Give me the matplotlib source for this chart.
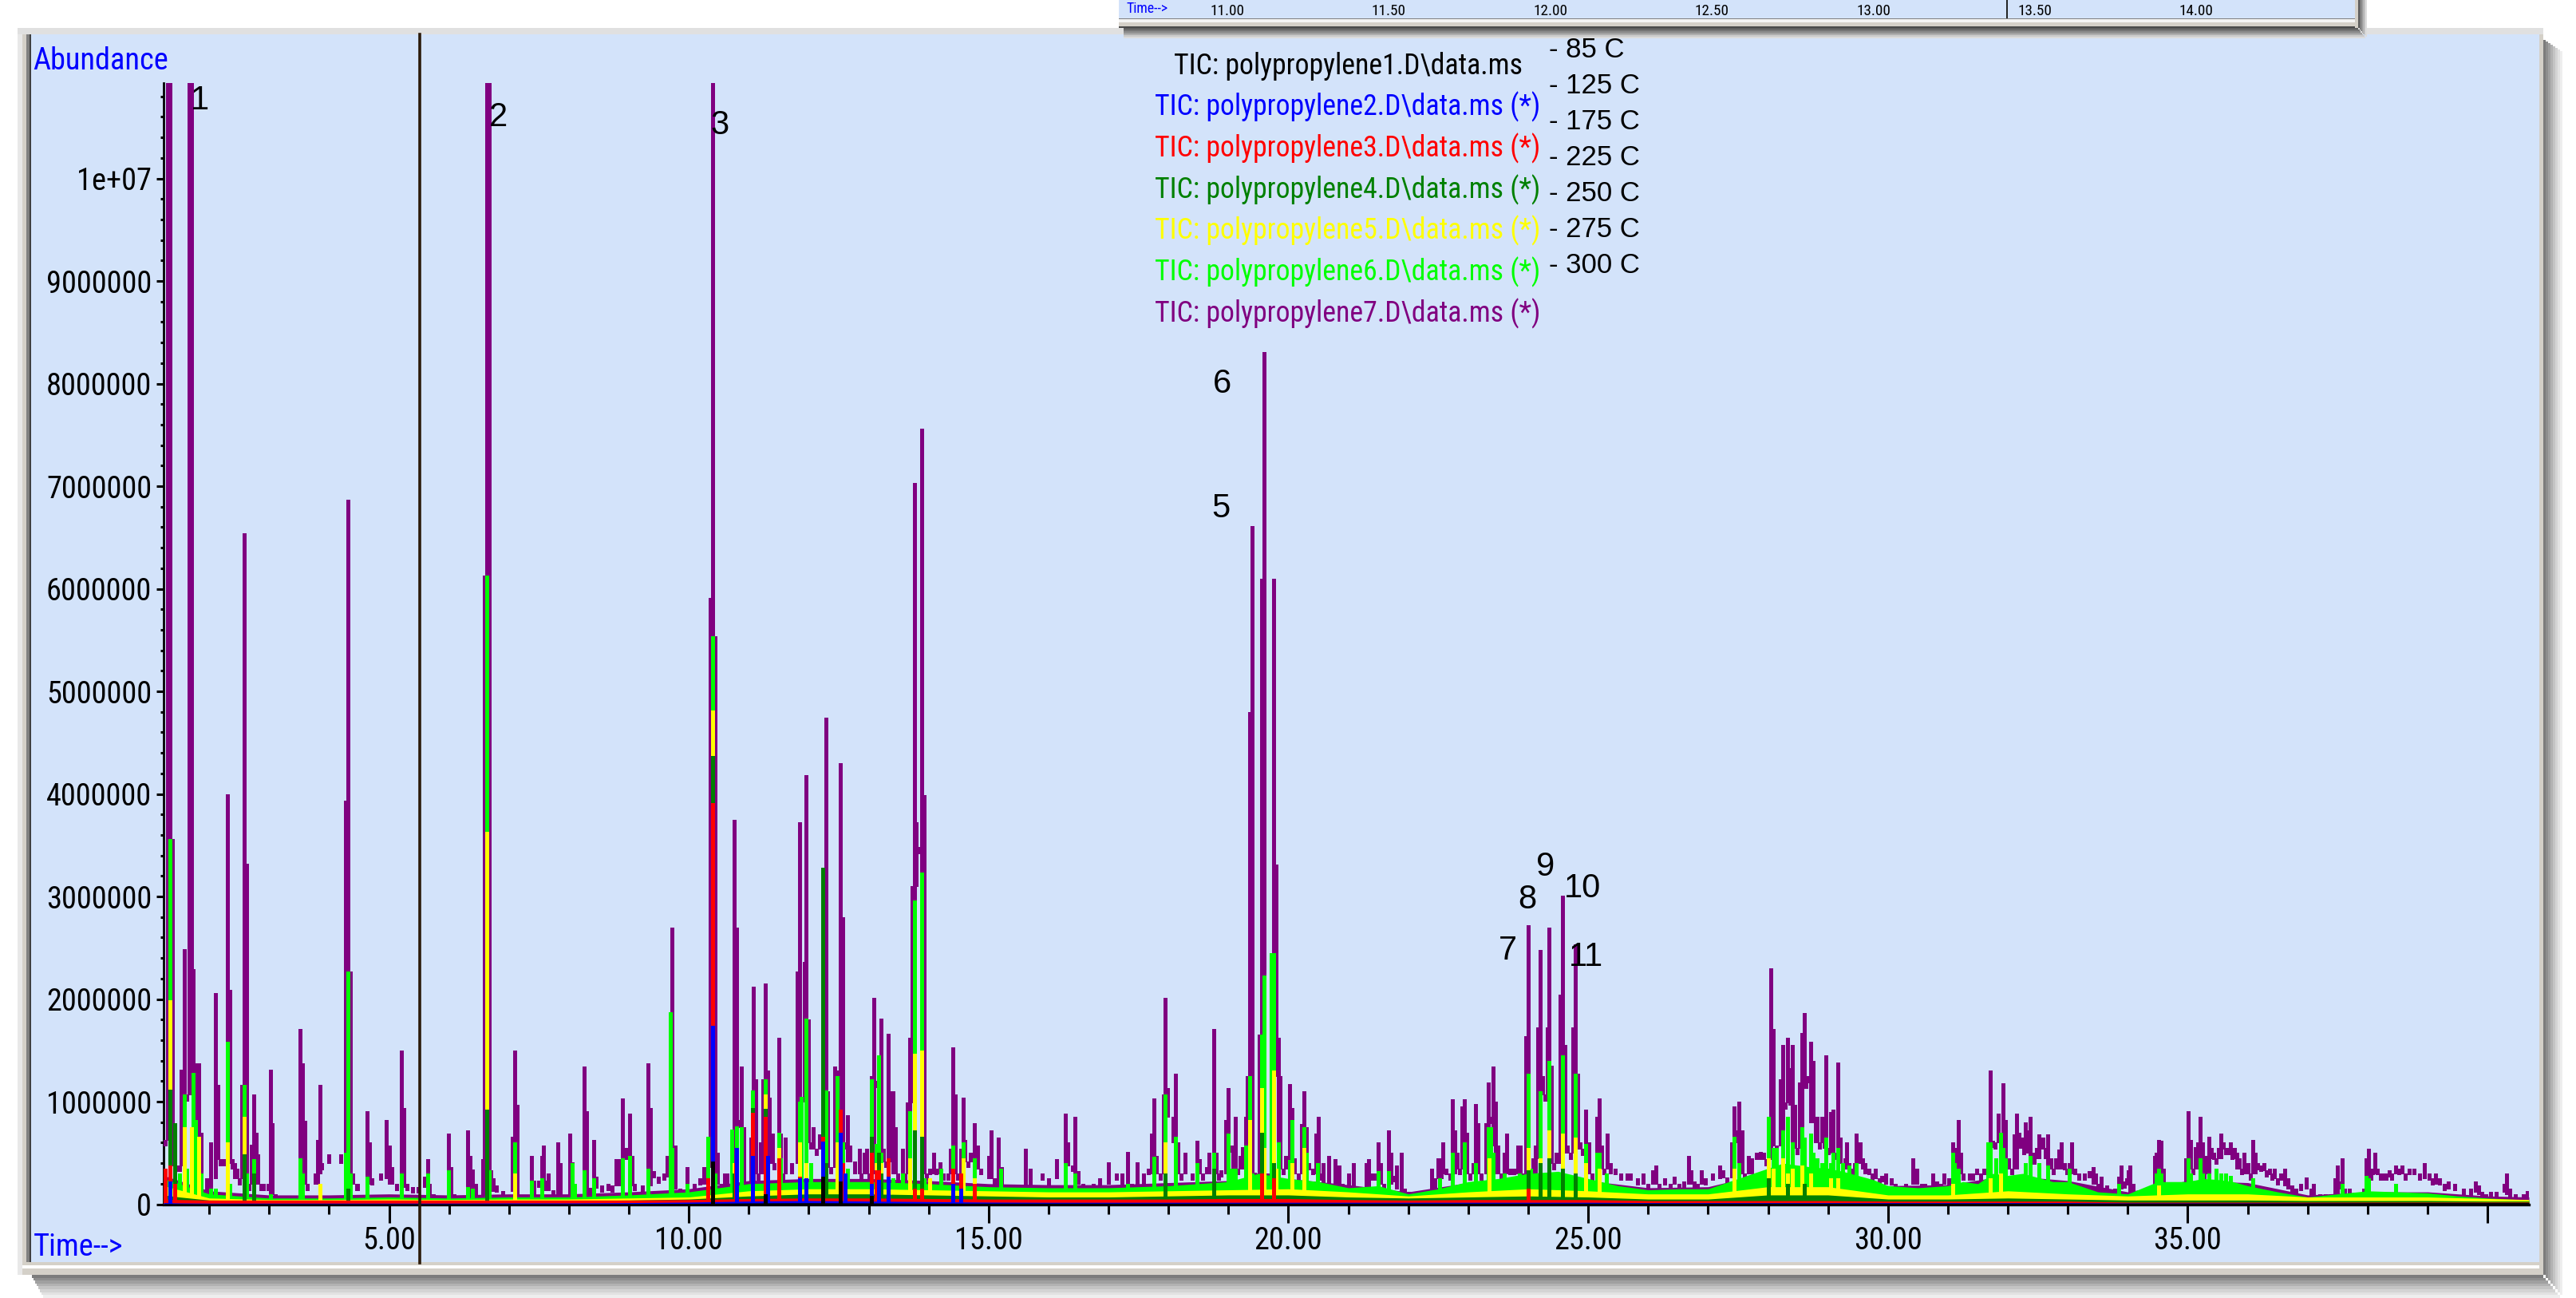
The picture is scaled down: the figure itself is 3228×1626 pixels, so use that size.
import os
import numpy as np
import matplotlib
matplotlib.use('Agg')
import matplotlib.pyplot as plt
from matplotlib.patches import Rectangle
from matplotlib.font_manager import FontProperties, fontManager
from matplotlib.ticker import MultipleLocator

# ---------------------------------------------------------------- data
# retention time (min) / abundance (millions) of each visible stick
PURPLE_T = [
    1.27, 1.30, 1.34, 1.38, 1.42, 1.46, 1.50, 1.53, 1.58, 1.62,
    1.66, 1.70, 1.735, 1.775, 1.82, 1.86, 1.92, 1.96, 2.02, 2.10,
    2.14, 2.18, 2.22, 2.26, 2.30, 2.34, 2.38, 2.42, 2.46, 2.50,
    2.54, 2.58, 2.62, 2.66, 2.71, 2.74, 2.78, 2.81, 2.86, 2.91,
    2.98, 3.02, 3.05, 3.10, 3.52, 3.55, 3.59, 3.64, 3.77, 3.81,
    3.85, 3.88, 3.99, 4.20, 4.28, 4.31, 4.35, 4.39, 4.46,
    4.48, 4.64, 4.68, 4.72, 4.86, 4.96, 5.00, 5.04, 5.12, 5.20,
    5.24, 5.30, 5.39, 5.48, 5.59, 5.64, 5.67, 5.74, 5.88, 5.99,
    6.03, 6.08, 6.21, 6.31, 6.35, 6.39, 6.44, 6.49, 6.56, 6.59,
    6.63, 6.67, 6.70, 6.74, 6.79, 6.90, 7.06, 7.10, 7.14, 7.25,
    7.37, 7.42, 7.50, 7.55, 7.58, 7.62, 7.66, 7.73, 7.81, 7.86,
    7.94, 8.01, 8.05, 8.09, 8.18, 8.26, 8.30, 8.36, 8.41, 8.46,
    8.55, 8.65, 8.72, 8.78, 8.85, 8.89, 8.94, 9.01, 9.05, 9.09,
    9.23, 9.32, 9.36, 9.41, 9.49, 9.58, 9.64, 9.69, 9.72, 9.77,
    9.85, 9.97, 10.09, 10.18, 10.25, 10.32, 10.36, 10.40, 10.44, 10.48,
    10.55, 10.60, 10.64, 10.72, 10.75, 10.79, 10.84, 10.88, 10.92, 10.97,
    11.04, 11.08, 11.12, 11.16, 11.20, 11.24, 11.28, 11.31, 11.34, 11.39,
    11.42, 11.50, 11.53, 11.57,
    11.61, 11.71, 11.81, 11.85, 11.88, 11.93, 11.96, 12.00, 12.04, 12.08,
    12.13, 12.18, 12.24, 12.29, 12.32, 12.37, 12.43, 12.48, 12.52, 12.56,
    12.60, 12.64, 12.68, 12.76, 12.84, 12.87, 12.93, 12.96, 13.01, 13.05,
    13.08, 13.12, 13.16, 13.20, 13.24, 13.28, 13.32, 13.36, 13.40, 13.44,
    13.49, 13.56, 13.60, 13.64, 13.68, 13.72, 13.76, 13.79, 13.84, 13.88,
    13.92, 13.96, 14.02, 14.08, 14.13, 14.19, 14.24, 14.32, 14.36, 14.40,
    14.44, 14.48, 14.53, 14.57, 14.60, 14.65, 14.70, 14.76, 14.81, 14.87,
    15.00, 15.04, 15.09, 15.16, 15.22, 15.35, 15.48, 15.62, 15.70, 15.90,
    16.00, 16.14, 16.28, 16.32, 16.40, 16.44, 16.49, 16.57, 16.74, 16.85,
    17.00, 17.13, 17.22, 17.32, 17.38, 17.48, 17.58, 17.66, 17.72, 17.76,
    17.80, 17.87, 17.92, 17.95, 17.99, 18.08, 18.12, 18.15, 18.21, 18.28,
    18.39, 18.47, 18.51, 18.57, 18.64, 18.68, 18.76, 18.79, 18.83,
    18.88, 18.95, 18.99, 19.03, 19.07, 19.12, 19.16, 19.19, 19.23, 19.29,
    19.32, 19.36, 19.40, 19.44, 19.48, 19.52, 19.56, 19.60, 19.63, 19.68,
    19.71, 19.75, 19.79, 19.83, 19.86, 19.91, 19.96, 20.02, 20.06, 20.10,
    20.17, 20.22, 20.26, 20.30, 20.34, 20.40, 20.46, 20.50, 20.54, 20.58,
    20.67, 20.74, 20.78, 20.82, 20.85, 20.90, 21.00, 21.09, 21.18, 21.30,
    21.34, 21.38, 21.44, 21.50, 21.54, 21.59, 21.67, 21.71, 21.75, 21.81,
    21.88, 21.93, 22.00, 22.10, 22.20, 22.30, 22.35, 22.39, 22.44, 22.50,
    22.55, 22.58, 22.63, 22.69, 22.74, 22.78, 22.82, 22.86, 22.90, 22.94,
    22.98, 23.03, 23.08, 23.12, 23.16, 23.21, 23.29, 23.33, 23.37, 23.41,
    23.45, 23.50, 23.55, 23.60, 23.64, 23.69, 23.76, 23.82, 23.87, 23.92,
    23.96, 24.00, 24.04, 24.08, 24.12, 24.16, 24.20, 24.24, 24.28, 24.32,
    24.35, 24.39, 24.43, 24.47, 24.53, 24.57, 24.61, 24.65, 24.70, 24.74,
    24.78, 24.82, 24.86, 24.91, 24.96, 25.01, 25.06, 25.15, 25.18, 25.22,
    25.27, 25.32, 25.37, 25.45, 25.55, 25.65, 25.70, 25.82, 25.91, 26.00,
    26.08,
    26.13, 26.18, 26.27, 26.37, 26.44, 26.52, 26.60, 26.68, 26.72, 26.77,
    26.82, 26.89, 26.95, 27.08, 27.20, 27.25, 27.32, 27.39, 27.44, 27.48,
    27.52, 27.56, 27.60, 27.67, 27.73, 27.80, 27.87, 27.93, 27.97, 28.01,
    28.04, 28.08, 28.14, 28.21, 28.25, 28.29, 28.33, 28.37, 28.41, 28.44,
    28.48, 28.52, 28.56, 28.60, 28.63, 28.67, 28.71, 28.75, 28.79, 28.82,
    28.86, 28.90, 28.94, 28.97, 29.01, 29.05, 29.09, 29.13, 29.16, 29.20,
    29.24, 29.28, 29.31, 29.35, 29.40, 29.44, 29.47, 29.50, 29.53, 29.57,
    29.62, 29.68, 29.73, 29.79, 29.85, 29.89, 29.96, 30.05, 30.12, 30.30,
    30.42, 30.48, 30.56, 30.62, 30.70, 30.75, 30.82, 30.88, 30.94, 31.01,
    31.08, 31.11, 31.17, 31.21, 31.26, 31.36, 31.41, 31.48, 31.55, 31.60,
    31.66, 31.70, 31.74, 31.79, 31.84, 31.88, 31.92, 31.96, 32.01, 32.06,
    32.10, 32.14, 32.18, 32.22, 32.26, 32.29, 32.33, 32.37, 32.41, 32.44,
    32.48, 32.52, 32.56, 32.59, 32.63, 32.67, 32.72, 32.76, 32.80, 32.85,
    32.89, 32.94, 32.98, 33.02, 33.07, 33.12, 33.18, 33.28, 33.36,
    33.42, 33.46, 33.50, 33.55, 33.65, 33.78, 33.85, 33.89, 33.94, 33.98,
    34.01, 34.04, 34.09, 34.15, 34.26, 34.38, 34.45, 34.48, 34.52, 34.56,
    34.60, 34.72, 34.84, 34.90, 34.97, 35.01, 35.05, 35.09, 35.12, 35.16,
    35.20, 35.24, 35.27, 35.31, 35.35, 35.39, 35.43, 35.47, 35.51, 35.55,
    35.59, 35.63, 35.67, 35.71, 35.74, 35.78, 35.82, 35.86, 35.90, 35.94,
    35.97, 36.01, 36.05, 36.08, 36.12, 36.16, 36.22, 36.27, 36.31, 36.36,
    36.41, 36.45, 36.50, 36.55, 36.62, 36.67, 36.74, 36.80, 36.88, 36.98,
    37.05, 37.10, 37.20, 37.30, 37.38, 37.46, 37.50, 37.53, 37.57, 37.62,
    37.70, 37.80, 37.88, 37.93, 37.97, 38.01, 38.05, 38.08, 38.12, 38.16,
    38.21, 38.26, 38.31, 38.36, 38.40, 38.47, 38.52, 38.57, 38.63, 38.70,
    38.77, 38.86, 38.95, 39.03, 39.08, 39.13, 39.20, 39.28, 39.35, 39.45,
    39.60, 39.72, 39.80, 39.85, 39.90, 39.97, 40.05, 40.15, 40.28, 40.32,
    40.37, 40.47, 40.54, 40.60, 40.66,
]
PURPLE_V = [
    0.63, 12.0, 12.0, 3.56, 0.79, 0.38, 0.38, 1.31, 2.49, 1.07,
    12.0, 12.0, 2.29, 1.37, 1.37, 0.70, 0.12, 0.25, 0.60, 2.06,
    1.16, 0.44, 0.44, 0.44, 4.00, 2.09, 0.44, 0.40, 0.35, 0.25,
    1.16, 6.54, 3.32, 0.20, 0.58, 1.07, 0.70, 0.49, 0.20, 0.20,
    0.20, 1.31, 0.79, 0.10, 1.71, 1.37, 0.81, 0.20, 0.30, 0.63,
    1.16, 0.40, 0.49, 0.49, 3.93, 6.87, 2.27, 0.30, 0.20,
    0.20, 0.91, 0.60, 0.25, 0.30, 0.82, 0.57, 0.36, 0.20, 1.50,
    0.94, 0.20, 0.17, 0.17, 0.27, 0.44, 0.20, 0.10, 0.07, 0.69,
    0.36, 0.10, 0.05, 0.72, 0.47, 0.34, 0.20, 0.07, 0.44, 6.13,
    12.0, 12.0, 0.33, 0.25, 0.18, 0.13, 0.66, 1.50, 0.97, 0.07,
    0.47, 0.23, 0.23, 0.47, 0.57, 0.23, 0.30, 0.14, 0.60, 0.40,
    0.07, 0.69, 0.41, 0.20, 0.10, 1.34, 0.91, 0.16, 0.63, 0.27,
    0.18, 0.20, 0.18, 0.44, 0.44, 1.03, 0.55, 0.88, 0.47, 0.20,
    0.18, 1.37, 0.94, 0.32, 0.27, 0.30, 0.47, 1.60, 2.70, 0.57,
    0.15, 0.36, 0.20, 0.25, 0.36, 0.66, 5.91, 12.0, 5.54, 0.50,
    0.20, 0.30, 0.30, 0.70, 3.75, 2.70, 0.82, 1.34, 0.75, 0.20,
    0.65, 2.12, 1.22, 0.30, 0.60, 1.22, 2.15, 1.30, 1.04, 0.69,
    0.40, 1.62, 0.69, 0.30,
    0.65, 0.40, 2.27, 3.72, 1.00, 2.36, 4.18, 1.80, 0.60, 0.75,
    0.54, 0.68, 3.14, 4.74, 1.10, 0.36, 1.34, 1.30, 4.30, 2.80,
    0.60, 0.87, 0.57, 0.42, 0.54, 0.30, 0.50, 0.54, 0.30, 1.25,
    2.01, 1.20, 1.40, 1.81, 0.54, 0.42, 1.66, 1.10, 1.10, 0.75,
    0.30, 0.54, 0.30, 0.99, 1.62, 3.10, 7.03, 3.72, 3.48, 7.56,
    3.99, 0.30, 0.35, 0.50, 0.35, 0.41, 0.30, 0.30, 0.54, 1.53,
    1.07, 0.30, 0.54, 1.04, 0.63, 0.42, 0.50, 0.79, 0.57, 0.35,
    0.47, 0.72, 0.25, 0.65, 0.36, 0.17, 0.17, 0.54, 0.35, 0.30,
    0.25, 0.44, 0.88, 0.60, 0.38, 0.85, 0.32, 0.20, 0.20, 0.25,
    0.41, 0.30, 0.30, 0.51, 0.20, 0.41, 0.30, 0.35, 0.69, 1.03,
    0.47, 0.30, 1.07, 2.01, 1.13, 0.85, 1.27, 0.60, 0.30, 0.50,
    0.30, 0.62, 0.44, 0.30, 0.36, 0.50, 1.71, 0.50, 0.30,
    0.33, 0.82, 1.13, 0.57, 0.57, 0.85, 0.35, 0.47, 0.56, 0.85,
    1.25, 4.80, 6.61, 0.31, 0.30, 1.65, 6.10, 8.31, 0.30, 0.30,
    2.45, 6.10, 3.31, 1.62, 1.25, 0.35, 0.47, 1.17, 0.94, 0.45,
    0.30, 0.78, 1.10, 0.75, 0.40, 0.35, 0.69, 0.85, 0.30, 0.40,
    0.47, 0.20, 0.44, 0.36, 0.38, 0.20, 0.30, 0.40, 0.15, 0.40,
    0.44, 0.30, 0.30, 0.60, 0.40, 0.20, 0.72, 0.50, 0.28, 0.38,
    0.50, 0.15, 0.12, 0.12, 0.07, 0.07, 0.10, 0.35, 0.25, 0.45,
    0.45, 0.60, 0.35, 0.30, 1.02, 0.72, 0.50, 0.35, 0.95, 1.02,
    0.70, 0.30, 0.40, 0.98, 0.79, 0.30, 0.79, 1.19, 0.85, 1.34,
    1.00, 0.57, 0.30, 0.50, 0.69, 0.35, 0.35, 0.57, 0.57, 0.30,
    1.64, 2.72, 0.30, 0.45, 0.57, 1.72, 2.48, 1.25, 1.07, 1.72,
    2.70, 1.35, 0.40, 0.50, 2.04, 3.01, 1.55, 0.57, 0.50, 1.72,
    2.53, 1.27, 0.60, 0.54, 0.92, 0.60, 0.30, 0.85, 1.03, 0.57,
    0.35, 0.69, 0.40, 0.35, 0.30, 0.30, 0.30, 0.25, 0.30, 0.20,
    0.33,
    0.38, 0.20, 0.25, 0.20, 0.27, 0.20, 0.22, 0.47, 0.33, 0.22,
    0.20, 0.33, 0.25, 0.30, 0.38, 0.33, 0.26, 0.60, 0.95, 0.72,
    1.00, 0.72, 0.30, 0.47, 0.45, 0.50, 0.51, 0.50, 0.44, 0.85,
    2.30, 1.71, 0.57, 1.22, 1.55, 0.99, 1.62, 1.33, 1.55, 0.97,
    0.55, 1.19, 1.67, 1.86, 1.19, 1.25, 1.58, 1.40, 0.80, 0.85,
    0.60, 0.85, 0.64, 1.45, 0.55, 0.90, 0.92, 0.50, 1.38, 0.65,
    0.40, 0.45, 0.60, 0.40, 0.35, 0.40, 0.69, 0.50, 0.60, 0.45,
    0.40, 0.35, 0.30, 0.35, 0.25, 0.28, 0.30, 0.25, 0.20, 0.20,
    0.45, 0.35, 0.20, 0.20, 0.18, 0.30, 0.22, 0.20, 0.30, 0.25,
    0.60, 0.55, 0.82, 0.50, 0.30, 0.30, 0.30, 0.35, 0.30, 0.35,
    0.60, 1.30, 0.62, 0.60, 0.88, 0.65, 1.18, 0.82, 0.45, 0.35,
    0.68, 0.88, 0.70, 0.65, 0.55, 0.80, 0.72, 0.85, 0.50, 0.45,
    0.55, 0.68, 0.60, 0.65, 0.55, 0.68, 0.45, 0.35, 0.45, 0.53,
    0.60, 0.40, 0.35, 0.40, 0.60, 0.35, 0.30, 0.30, 0.32,
    0.36, 0.30, 0.20, 0.27, 0.18, 0.15, 0.27, 0.38, 0.22, 0.25,
    0.33, 0.38, 0.20, 0.12, 0.15, 0.15, 0.47, 0.50, 0.63, 0.62,
    0.35, 0.20, 0.20, 0.18, 0.45, 0.91, 0.63, 0.35, 0.56, 0.60,
    0.85, 0.60, 0.30, 0.47, 0.66, 0.55, 0.50, 0.45, 0.55, 0.69,
    0.60, 0.55, 0.55, 0.60, 0.50, 0.55, 0.50, 0.45, 0.35, 0.50,
    0.40, 0.40, 0.30, 0.63, 0.50, 0.40, 0.38, 0.40, 0.33, 0.35,
    0.30, 0.35, 0.25, 0.30, 0.35, 0.25, 0.18, 0.15, 0.20, 0.26,
    0.15, 0.20, 0.10, 0.10, 0.10, 0.25, 0.38, 0.22, 0.45, 0.15,
    0.15, 0.10, 0.10, 0.15, 0.45, 0.54, 0.30, 0.35, 0.50, 0.35,
    0.30, 0.30, 0.30, 0.33, 0.30, 0.38, 0.35, 0.38, 0.30, 0.35,
    0.35, 0.30, 0.40, 0.30, 0.25, 0.30, 0.25, 0.20, 0.22, 0.20,
    0.15, 0.15, 0.22, 0.18, 0.12, 0.10, 0.12, 0.12, 0.20, 0.30,
    0.15, 0.10, 0.05, 0.10, 0.13,
]

LIME_T = [
    1.34, 1.42, 1.50, 1.58, 1.62, 1.70, 1.735, 1.775, 1.82, 1.86,
    2.02, 2.10, 2.30, 2.34, 2.58, 2.62, 2.74, 3.02, 3.52, 3.55,
    3.85, 4.28, 4.31, 4.35, 4.64, 5.20, 5.64, 5.99, 6.31, 6.39,
    6.63, 6.67, 7.10, 7.37, 7.55, 8.05, 8.09, 8.26, 8.41, 8.89,
    9.01, 9.32, 9.69, 9.72, 9.97, 10.32, 10.40, 10.44, 10.72, 10.79,
    10.88, 11.06, 11.20, 11.28, 11.50, 11.53, 11.71, 11.85, 11.88, 11.96,
    12.04, 12.29, 12.48, 12.56, 12.64, 13.05, 13.12, 13.16, 13.20, 13.32,
    13.40, 13.57, 13.68, 13.76, 13.88, 13.92, 14.02, 14.20, 14.40, 14.57,
    14.76, 15.20, 16.28, 16.44, 17.32, 17.76, 17.95, 18.12, 18.47, 18.76,
    18.99, 19.05, 19.12, 19.29, 19.36, 19.40, 19.56, 19.60, 19.71, 19.75,
    19.83, 20.02, 20.06, 20.26, 20.30, 20.48, 21.50, 21.67, 22.52, 22.74,
    22.94, 23.12, 23.33, 23.37, 23.41, 23.60, 23.85, 24.00, 24.04, 24.20,
    24.35, 24.57, 24.78, 24.96, 25.15, 25.18, 25.30, 27.44, 27.52, 28.01,
    28.08, 28.14, 28.25, 28.33, 28.41, 28.48, 28.56, 28.60, 28.71, 28.75,
    28.82, 28.90, 28.97, 29.05, 29.09, 29.16, 29.24, 29.35, 29.47, 31.08,
    31.11, 31.17, 31.66, 31.70, 31.80, 31.88, 31.92, 31.96, 32.29, 32.37,
    32.52, 32.67, 33.02, 33.85, 34.48, 34.52, 34.56, 35.01, 35.05, 35.20,
    35.24, 35.35, 35.47, 35.55, 35.63, 35.71, 36.08, 37.57, 37.97, 38.01,
    38.47,
]
LIME_V = [
    3.56, 0.60, 0.30, 1.07, 0.35, 0.60, 1.28, 0.82, 0.50, 0.30,
    0.15, 0.15, 1.58, 0.20, 1.16, 0.30, 0.44, 0.10, 0.45, 0.30,
    0.20, 0.50, 2.27, 0.30, 0.27, 0.30, 0.30, 0.33, 0.17, 0.15,
    6.13, 0.33, 0.60, 0.23, 0.25, 0.40, 0.20, 0.33, 0.25, 0.45,
    0.47, 0.35, 1.87, 0.55, 0.20, 0.66, 5.54, 0.30, 0.73, 0.76,
    0.75, 1.11, 0.20, 1.22, 0.70, 0.45, 0.20, 1.00, 1.05, 1.81,
    0.40, 1.11, 1.25, 0.60, 0.35, 1.22, 0.59, 1.45, 0.50, 0.40,
    0.25, 0.30, 0.91, 2.96, 3.23, 0.25, 0.25, 0.35, 0.57, 0.60,
    0.45, 0.35, 0.40, 0.30, 0.20, 0.46, 1.07, 0.66, 0.40, 0.50,
    0.69, 0.35, 0.35, 0.57, 1.25, 0.30, 1.65, 2.23, 2.45, 2.45,
    0.60, 0.43, 0.82, 0.75, 0.50, 0.40, 0.32, 0.32, 0.25, 0.50,
    0.60, 0.40, 0.75, 0.75, 0.50, 0.30, 0.30, 1.27, 0.35, 1.10,
    1.40, 1.45, 1.27, 0.59, 0.50, 0.50, 0.30, 0.66, 0.40, 0.85,
    0.55, 0.55, 0.72, 0.85, 0.60, 0.35, 0.75, 0.65, 0.69, 0.50,
    0.45, 0.40, 0.65, 0.40, 0.50, 0.55, 0.40, 0.38, 0.40, 0.50,
    0.40, 0.35, 0.60, 0.60, 0.45, 0.70, 0.55, 0.45, 0.40, 0.47,
    0.40, 0.38, 0.35, 0.20, 0.30, 0.35, 0.30, 0.45, 0.30, 0.45,
    0.30, 0.30, 0.35, 0.30, 0.30, 0.28, 0.25, 0.20, 0.28, 0.25,
    0.20,
]

YELLOW_T = [
    1.34, 1.58, 1.70, 1.82, 2.30, 2.58, 3.85, 6.63, 7.10, 10.40,
    10.75, 11.06, 11.28, 11.50, 11.85, 11.96, 12.29, 12.48, 13.05, 13.12,
    13.16, 13.20, 13.68, 13.76, 13.88, 14.02, 14.57, 14.76, 17.95, 19.36,
    19.56, 19.60, 19.75, 19.79, 20.06, 20.26, 23.35, 24.00, 24.20, 24.35,
    24.57, 24.78, 24.96, 25.18, 27.44, 28.01, 28.08, 28.25, 28.33, 28.41,
    28.56, 28.71, 29.05, 29.16, 31.08, 31.70, 31.88, 34.52,
]
YELLOW_V = [
    1.99, 0.75, 0.75, 0.66, 0.60, 0.85, 0.20, 3.63, 0.30, 4.81,
    0.40, 0.50, 1.07, 0.55, 0.60, 0.40, 0.40, 0.60, 0.40, 0.40,
    0.40, 0.40, 0.45, 1.47, 1.50, 0.25, 0.45, 0.25, 0.60, 0.82,
    1.13, 0.55, 1.30, 0.35, 0.40, 0.55, 0.45, 0.55, 0.45, 0.72,
    0.69, 0.65, 0.40, 0.35, 0.35, 0.45, 0.35, 0.45, 0.30, 0.35,
    0.38, 0.30, 0.25, 0.25, 0.20, 0.25, 0.30, 0.18,
]

DKGREEN_T = [
    1.34, 1.42, 2.58, 2.74, 4.31, 6.63, 10.40, 10.75, 11.06, 11.28,
    11.50, 12.24, 12.29, 13.05, 13.16, 13.20, 13.76, 13.88, 17.95, 18.76,
    19.56, 19.75, 24.00, 24.20, 24.35, 24.57, 24.78, 28.01, 28.33, 28.60,
]
DKGREEN_V = [
    1.12, 0.79, 0.49, 0.30, 0.15, 0.92, 4.37, 0.30, 0.94, 0.93,
    0.30, 3.28, 0.40, 0.66, 0.50, 0.30, 0.72, 0.66, 0.30, 0.35,
    0.70, 0.40, 0.33, 0.40, 0.45, 0.35, 0.30, 0.25, 0.20, 0.20,
]

RED_T = [
    1.27, 1.35, 1.42, 10.32, 10.40, 10.78, 11.06, 11.28, 11.50, 11.85,
    11.96, 12.24, 12.52, 12.56, 13.05, 13.12, 13.16, 13.32, 13.76, 13.88,
    14.40, 14.53, 14.76, 19.56, 19.75, 24.00,
]
RED_V = [
    0.35, 0.38, 0.20, 0.25, 3.91, 0.40, 0.89, 0.85, 0.45, 0.27,
    0.20, 0.66, 0.92, 0.40, 0.50, 0.33, 0.33, 0.45, 0.15, 0.15,
    0.35, 0.30, 0.20, 0.30, 0.25, 0.15,
]

BLUE_T = [1.35, 10.40, 10.80, 11.06, 11.31, 11.85, 11.96, 12.24, 12.52, 12.60,
          13.05, 13.16, 13.32, 14.40, 14.53]
BLUE_V = [0.22, 1.74, 0.55, 0.47, 0.47, 0.25, 0.25, 0.61, 0.70, 0.30,
          0.20, 0.24, 0.27, 0.20, 0.15]

BLACK_T = [10.40, 11.28, 12.24, 12.52, 13.05]
BLACK_V = [0.42, 0.10, 0.27, 0.22, 0.08]

# noise floor of each trace (millions)
FLOOR_T = [1.24, 1.5, 2, 3, 4, 5, 6, 7, 8, 9,
           10, 11, 12, 13, 14, 15, 16, 17, 18, 19,
           20, 21, 22, 23, 24, 25, 26, 27, 28, 29,
           30, 31, 32, 33, 34, 35, 36, 37, 38, 39,
           40, 40.69]
PURPLE_FLOOR = [0.28, 0.23, 0.13, 0.09, 0.09, 0.10, 0.09, 0.10, 0.10, 0.12,
                0.15, 0.23, 0.25, 0.25, 0.23, 0.20, 0.19, 0.19, 0.21, 0.23,
                0.25, 0.19, 0.12, 0.21, 0.27, 0.23, 0.16, 0.17, 0.31, 0.35,
                0.18, 0.19, 0.28, 0.23, 0.12, 0.23, 0.21, 0.09, 0.12, 0.12,
                0.08, 0.07]
LIME_FLOOR_T = [1.24, 1.5, 2, 3, 4, 5, 6, 7, 8, 9,
                10, 11, 12, 13, 14, 15, 16, 17, 18,
                18.5, 19, 19.5, 20, 20.5, 21, 21.5, 22, 22.5, 23,
                23.5, 24, 24.5, 25, 25.5, 26, 26.5, 27, 27.5, 28,
                28.25, 28.5, 28.75, 29, 29.25, 29.5, 29.75, 30, 30.5, 31,
                31.25, 31.5, 31.75, 32, 32.25, 32.5, 32.75, 33, 33.5, 34,
                34.5, 35, 35.25, 35.5, 35.75, 36, 36.5, 37, 37.5, 38,
                38.5, 39, 39.5, 40, 40.69]
LIME_FLOOR = [0.25, 0.20, 0.10, 0.06, 0.06, 0.07, 0.06, 0.07, 0.07, 0.09,
              0.12, 0.20, 0.22, 0.22, 0.20, 0.17, 0.16, 0.16, 0.18,
              0.20, 0.22, 0.30, 0.25, 0.22, 0.16, 0.18, 0.10, 0.15, 0.22,
              0.25, 0.30, 0.32, 0.25, 0.18, 0.14, 0.15, 0.15, 0.25, 0.35,
              0.40, 0.38, 0.36, 0.35, 0.32, 0.28, 0.24, 0.18, 0.16, 0.18,
              0.22, 0.20, 0.30, 0.28, 0.30, 0.26, 0.22, 0.22, 0.12, 0.10,
              0.22, 0.22, 0.25, 0.24, 0.22, 0.18, 0.12, 0.07, 0.10, 0.13,
              0.12, 0.11, 0.08, 0.06, 0.04]
YELLOW_FLOOR = [0.18, 0.14, 0.06, 0.045, 0.045, 0.05, 0.045, 0.05, 0.05, 0.06,
                0.07, 0.13, 0.15, 0.15, 0.14, 0.13, 0.12, 0.12, 0.13, 0.14,
                0.15, 0.12, 0.08, 0.12, 0.15, 0.13, 0.10, 0.10, 0.17, 0.17,
                0.09, 0.09, 0.13, 0.10, 0.08, 0.10, 0.10, 0.07, 0.07, 0.07,
                0.055, 0.045]
DKGREEN_FLOOR = [0.09, 0.07, 0.04, 0.035, 0.035, 0.035, 0.035, 0.035, 0.035, 0.04,
                 0.05, 0.08, 0.10, 0.10, 0.09, 0.08, 0.07, 0.07, 0.08, 0.09,
                 0.09, 0.07, 0.06, 0.07, 0.08, 0.07, 0.05, 0.05, 0.09, 0.09,
                 0.05, 0.05, 0.06, 0.05, 0.04, 0.04, 0.04, 0.035, 0.035, 0.035,
                 0.03, 0.03]
RED_FLOOR = [0.05, 0.045, 0.04, 0.04, 0.04, 0.04, 0.04, 0.04, 0.04, 0.04,
             0.045, 0.055, 0.06, 0.06, 0.055, 0.05, 0.05, 0.05, 0.05, 0.055,
             0.055, 0.045, 0.04, 0.045, 0.045, 0.045, 0.035, 0.035, 0.035, 0.035,
             0.03, 0.03, 0.03, 0.03, 0.02, 0.02, 0.02, 0.02, 0.02, 0.02,
             0.02, 0.02]
BLUE_FLOOR = [0.015, 0.012, 0.01, 0.01, 0.01, 0.01, 0.01, 0.012, 0.012, 0.015,
              0.02, 0.03, 0.035, 0.03, 0.025, 0.02, 0.018, 0.018, 0.018, 0.018,
              0.018, 0.018, 0.018, 0.018, 0.018, 0.018, 0.015, 0.015, 0.015, 0.015,
              0.015, 0.015, 0.015, 0.015, 0.012, 0.012, 0.012, 0.012, 0.012, 0.012,
              0.012, 0.012]
BLACK_FLOOR = [0.006, 0.006, 0.005, 0.005, 0.005, 0.005, 0.005, 0.005, 0.005, 0.006,
               0.008, 0.012, 0.014, 0.012, 0.01, 0.01, 0.01, 0.01, 0.01, 0.01,
               0.01, 0.01, 0.01, 0.01, 0.01, 0.01, 0.01, 0.01, 0.01, 0.01,
               0.01, 0.01, 0.01, 0.01, 0.01, 0.01, 0.01, 0.012, 0.014, 0.015,
               0.015, 0.015]

SERIES_LABELS = ['TIC: polypropylene1.D\\data.ms',
                 'TIC: polypropylene2.D\\data.ms (*)',
                 'TIC: polypropylene3.D\\data.ms (*)',
                 'TIC: polypropylene4.D\\data.ms (*)',
                 'TIC: polypropylene5.D\\data.ms (*)',
                 'TIC: polypropylene6.D\\data.ms (*)',
                 'TIC: polypropylene7.D\\data.ms (*)']
SERIES_COLORS = ['#000000', '#0000FF', '#FF0000', '#008000', '#FFFF00', '#00FF00', '#800080']
TEMPS = ['- 85 C', '- 125 C', '- 175 C', '- 225 C', '- 250 C', '- 275 C', '- 300 C']

PEAK_LABELS = ['1', '2', '3', '5', '6', '7', '8', '9', '10', '11']
PEAK_LABEL_T = [1.85, 6.83, 10.52, 18.88, 18.90, 23.66, 23.99, 24.29, 24.91, 24.97]
PEAK_LABEL_V = [10.67, 10.51, 10.43, 6.70, 7.91, 2.385, 2.88, 3.20, 2.99, 2.32]

Y_TICKS = [0, 1, 2, 3, 4, 5, 6, 7, 8, 9, 10]
Y_LABELS = ['0', '1000000', '2000000', '3000000', '4000000', '5000000',
            '6000000', '7000000', '8000000', '9000000', '1e+07']
X_TICKS = [5, 10, 15, 20, 25, 30, 35, 40]
X_LABELS = ['5.00', '10.00', '15.00', '20.00', '25.00', '30.00', '35.00', '']
MARKER_T = 5.515

STRIP_TICKS = [11.0, 11.5, 12.0, 12.5, 13.0, 13.5, 14.0]
STRIP_LABELS = ['11.00', '11.50', '12.00', '12.50', '13.00', '13.50', '14.00']
STRIP_MARK = 13.414

for a, b in [(PURPLE_T, PURPLE_V), (LIME_T, LIME_V), (YELLOW_T, YELLOW_V),
             (DKGREEN_T, DKGREEN_V), (RED_T, RED_V), (BLUE_T, BLUE_V), (BLACK_T, BLACK_V),
             (LIME_FLOOR_T, LIME_FLOOR)]:
    assert len(a) == len(b), (len(a), len(b))
for f in [PURPLE_FLOOR, YELLOW_FLOOR, DKGREEN_FLOOR, RED_FLOOR, BLUE_FLOOR, BLACK_FLOOR]:
    assert len(f) == len(FLOOR_T), len(f)

# ---------------------------------------------------------------- fonts
def pick_narrow():
    best = None
    for f in fontManager.ttflist:
        base = os.path.basename(f.fname).lower().replace('-', '').replace('_', '').replace(' ', '')
        if f.style != 'normal' or 'bold' in base or 'italic' in base or 'light' in base \
                or 'medium' in base or 'thin' in base or 'black' in base or 'semi' in base:
            continue
        score = None
        if 'liberationsansnarrow' in base:
            score = (0, 1.0)
        elif 'robotocondensed' in base:
            score = (1, 0.92)
        elif 'dejavusanscondensed' in base:
            score = (2, 0.82)
        elif 'opensanscondensed' in base or 'notosanscondensed' in base:
            score = (3, 0.85)
        elif 'condensed' in base or 'narrow' in base:
            score = (4, 0.85)
        if score is not None and (best is None or score[0] < best[0][0]):
            best = (score, f.fname)
    return best

_nb = pick_narrow()
if _nb is not None:
    NARROW_PATH, NSCALE = _nb[1], _nb[0][1]
else:
    NARROW_PATH, NSCALE = None, 0.75


def nfont(size):
    if NARROW_PATH:
        return FontProperties(fname=NARROW_PATH, size=size * NSCALE)
    return FontProperties(family='DejaVu Sans', size=size * NSCALE)


def rfont(size):
    return FontProperties(family=['Liberation Sans', 'DejaVu Sans'], size=size)

# ---------------------------------------------------------------- figure
W, H = 3228, 1626
PANEL = '#D3E3FA'
BLUE_TXT = '#0000FF'

fig = plt.figure(figsize=(W / 100, H / 100), dpi=100)
fig.patch.set_facecolor('white')


def prect(x0, y0, x1, y1, color, z=-2):
    fig.add_artist(Rectangle((x0 / W, 1 - y1 / H), (x1 - x0) / W, (y1 - y0) / H,
                             transform=fig.transFigure, facecolor=color,
                             edgecolor='none', zorder=z, antialiased=False))

# window frame
prect(22, 35, 3187, 43, '#E0E0E0')
prect(22, 43, 28, 1597, '#E8E8E8')
prect(28, 43, 33, 1589, '#D4D0C8')
prect(33, 43, 37, 1581, '#808080')
prect(37, 43, 39, 1581, '#404040')
prect(39, 43, 3182, 1581, PANEL, z=-3)
prect(33, 1581, 3187, 1585, '#D4D0C8')
prect(28, 1585, 3187, 1589, '#FFFFFF')
prect(28, 1589, 3187, 1597, '#D4D0C8')
prect(3182, 43, 3187, 1597, '#D4D0C8')
shade = ['#7C7C7C', '#8E8E8E', '#A0A0A0', '#B2B2B2', '#C4C4C4', '#D4D4D4', '#E2E2E2', '#EEEEEE']
for i, g in enumerate(shade):
    prect(40 + i * 2, 1597 + i * 3.6, 3187 + i * 3, 1597 + (i + 1) * 3.6, g)
    prect(3187 + i * 3, 50 + i * 2, 3187 + (i + 1) * 3, 1597 + i * 3.6, g)

# top strip (partly hidden window) frame
prect(1402, 23, 2951, 24.5, '#808080', z=-1)
prect(1402, 24.5, 2951, 28, '#F4F4F4', z=-1)
prect(1402, 28, 2951, 33, '#D4D0C8', z=-1)
prect(1402, 33, 2951, 35, '#4A4A4A', z=-1)
prect(2951, 0, 2955, 35, '#D4D0C8', z=-1)
sshade = ['#5E5E5E', '#747474', '#8A8A8A', '#A0A0A0', '#B6B6B6', '#CACACA', '#DCDCDC']
for i, g in enumerate(sshade):
    prect(1408, 35 + i * 1.9, 2955 + i * 1.5, 35 + (i + 1) * 1.9, g, z=-1)
    prect(2955 + i * 1.5, 0, 2955 + (i + 1) * 1.5, 35 + i * 1.9, g, z=-1)

# ---------------------------------------------------------------- main axes
AX_L, AX_R, AX_B, AX_T = 205, 3169, 1508.5, 104
ax = fig.add_axes([AX_L / W, 1 - AX_B / H, (AX_R - AX_L) / W, (AX_B - AX_T) / H])
ax.set_facecolor('none')
ax.set_xlim(1.24, 40.69)
ax.set_ylim(0, 10.93)
for s in ['top', 'right']:
    ax.spines[s].set_visible(False)
ax.spines['left'].set_linewidth(2.0)
ax.spines['bottom'].set_linewidth(2.4)

# each trace: noise band filled from the axis, then its sticks on top.
# The densely sampled purple trace is drawn as min-max columns (like a
# raster plot of a noisy line) so the background shows beneath its noise.
pv = np.asarray(PURPLE_V)
purple_lo = np.array([pv[max(0, i - 2):i + 3].min() for i in range(len(pv))])
purple_lo = np.clip(np.minimum(purple_lo, pv - 0.06), 0, None)

series = [
    (PURPLE_T, PURPLE_V, FLOOR_T, PURPLE_FLOOR, SERIES_COLORS[6], purple_lo),
    (LIME_T, LIME_V, LIME_FLOOR_T, LIME_FLOOR, SERIES_COLORS[5], 0),
    (YELLOW_T, YELLOW_V, FLOOR_T, YELLOW_FLOOR, SERIES_COLORS[4], 0),
    (DKGREEN_T, DKGREEN_V, FLOOR_T, DKGREEN_FLOOR, SERIES_COLORS[3], 0),
    (RED_T, RED_V, FLOOR_T, RED_FLOOR, SERIES_COLORS[2], 0),
    (BLUE_T, BLUE_V, FLOOR_T, BLUE_FLOOR, SERIES_COLORS[1], 0),
    (BLACK_T, BLACK_V, FLOOR_T, BLACK_FLOOR, SERIES_COLORS[0], 0),
]
z = 3
for t, v, ft, fl, c, lo in series:
    ax.fill_between(ft, 0, fl, color=c, lw=0, zorder=z, antialiased=False)
    ax.vlines(t, lo, v, colors=c, linewidth=2.2, zorder=z + 0.5, antialiased=False)
    z += 1

ax.axvline(MARKER_T, ymin=(AX_B - 1582) / (AX_B - AX_T), ymax=(AX_B - 43) / (AX_B - AX_T),
           color='#2B1A0A', lw=2.6, clip_on=False, zorder=30)

ax.set_yticks(Y_TICKS, Y_LABELS)
ax.yaxis.set_minor_locator(MultipleLocator(0.2))
ax.tick_params(axis='y', which='major', length=6.5, width=2.2, pad=4.3, direction='out', colors='black')
ax.tick_params(axis='y', which='minor', length=3.2, width=2.2, direction='out')
ax.set_xticks(X_TICKS, X_LABELS)
ax.xaxis.set_minor_locator(MultipleLocator(1))
ax.tick_params(axis='x', which='major', length=16.5, width=2.2, pad=3.6, direction='out')
ax.tick_params(axis='x', which='minor', length=8.6, width=2.2, direction='out')
for lab in ax.get_yticklabels() + ax.get_xticklabels():
    lab.set_fontproperties(nfont(30))

for s, t, v in zip(PEAK_LABELS, PEAK_LABEL_T, PEAK_LABEL_V):
    ax.text(t, v, s, ha='center', va='baseline', fontproperties=rfont(30),
            color='black', zorder=40, clip_on=False)

fig.text(41 / W, 1 - 87 / H, 'Abundance', ha='left', va='baseline',
         color=BLUE_TXT, fontproperties=nfont(30))
fig.text(42 / W, 1 - 1573 / H, 'Time-->', ha='left', va='baseline',
         color=BLUE_TXT, fontproperties=nfont(30))

# legend-like titles
for i, (lab, col) in enumerate(zip(SERIES_LABELS, SERIES_COLORS)):
    yb = 93 + i * 51.7
    fig.text(1689 / W, 1 - yb / H, lab, ha='center', va='baseline', color=col,
             fontproperties=nfont(28))
for i, tmp in enumerate(TEMPS):
    yb = 72 + i * 45
    fig.text(1941 / W, 1 - yb / H, tmp, ha='left', va='baseline', color='black',
             fontproperties=rfont(25))

# ---------------------------------------------------------------- top strip
ax2 = fig.add_axes([1402 / W, 1 - 23 / H, (2951 - 1402) / W, 23 / H])
ax2.set_facecolor(PANEL)
ax2.set_xlim(10.664, 14.491)
ax2.set_ylim(0, 1)
for s in ax2.spines.values():
    s.set_visible(False)
ax2.set_yticks([])
ax2.set_xticks(STRIP_TICKS, STRIP_LABELS)
ax2.tick_params(axis='x', length=0, pad=-13.3)
for lab in ax2.get_xticklabels():
    lab.set_fontproperties(nfont(15))
ax2.axvline(STRIP_MARK, color='#202020', lw=1.4)
ax2.text(0.006, 0.5, 'Time-->', transform=ax2.transAxes, ha='left', va='center',
         color=BLUE_TXT, fontproperties=nfont(14))

fig.savefig('out.png', dpi=100, facecolor='white')
